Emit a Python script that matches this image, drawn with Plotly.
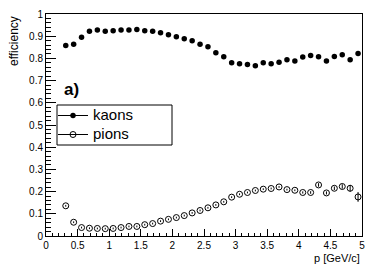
import plotly.graph_objects as go

# bin centres (0.125 GeV/c bins)
p_centers = [0.3125 + 0.125 * k for k in range(38)]

kaon_eff = [0.858, 0.864, 0.895, 0.922, 0.928, 0.922, 0.925, 0.928, 0.928, 0.930,
            0.925, 0.922, 0.916, 0.907, 0.897, 0.889, 0.879, 0.864, 0.852, 0.826,
            0.807, 0.780, 0.776, 0.773, 0.767, 0.780, 0.776, 0.783, 0.794, 0.788,
            0.806, 0.813, 0.807, 0.788, 0.809, 0.817, 0.794, 0.822]
kaon_err = [0.002] * 38

pion_eff = [0.136, 0.062, 0.038, 0.035, 0.034, 0.033, 0.034, 0.038, 0.043, 0.043,
            0.051, 0.056, 0.067, 0.075, 0.083, 0.092, 0.104, 0.115, 0.127, 0.140,
            0.154, 0.175, 0.188, 0.196, 0.205, 0.211, 0.214, 0.221, 0.209, 0.206,
            0.196, 0.196, 0.230, 0.194, 0.215, 0.223, 0.215, 0.176]
pion_err = [0.004] * 30 + [0.005, 0.006, 0.008, 0.007, 0.008, 0.010, 0.015, 0.022]

x_ticks = [0, 0.5, 1, 1.5, 2, 2.5, 3, 3.5, 4, 4.5, 5]
x_ticklabels = ["0", "0.5", "1", "1.5", "2", "2.5", "3", "3.5", "4", "4.5", "5"]
y_ticks = [0, 0.1, 0.2, 0.3, 0.4, 0.5, 0.6, 0.7, 0.8, 0.9, 1]
y_ticklabels = ["0", "0.1", "0.2", "0.3", "0.4", "0.5", "0.6", "0.7", "0.8", "0.9", "1"]

FONT = "Liberation Sans, Arial, sans-serif"

fig = go.Figure()

fig.add_trace(go.Scatter(
    x=p_centers, y=kaon_eff, mode="markers",
    marker=dict(symbol="circle", size=5.5, color="black"),
    error_y=dict(type="data", array=kaon_err, width=0, color="black", thickness=1),
    showlegend=False, name="kaons"))
fig.add_trace(go.Scatter(
    x=p_centers, y=pion_eff, mode="markers",
    marker=dict(symbol="circle-open", size=6, color="black", line=dict(width=1, color="black")),
    error_y=dict(type="data", array=pion_err, width=0, color="black", thickness=1),
    showlegend=False, name="pions"))

# legend entries (line + marker, ROOT "lp" style)
fig.add_trace(go.Scatter(x=[None], y=[None], mode="lines+markers",
                         name='<span style="font-size:15px">kaons</span>',
                         line=dict(color="black", width=1),
                         marker=dict(symbol="circle", size=5.5, color="black")))
fig.add_trace(go.Scatter(x=[None], y=[None], mode="lines+markers",
                         name='<span style="font-size:15px">pions</span>',
                         line=dict(color="black", width=1),
                         marker=dict(symbol="circle-open", size=6, color="black",
                                     line=dict(width=1, color="black"))))

axis_common = dict(showgrid=False, zeroline=False, showline=True, linecolor="black",
                   linewidth=1, mirror=True, ticks="inside", tickcolor="black",
                   automargin=False,
                   tickfont=dict(family=FONT, size=10, color="black"))

fig.update_xaxes(range=[0, 5], tickmode="array", tickvals=x_ticks, ticktext=x_ticklabels,
                 ticklen=7, minor=dict(dtick=0.1, ticklen=3.5, ticks="inside", tickcolor="black"),
                 **axis_common)
fig.update_yaxes(range=[0, 1], tickmode="array", tickvals=y_ticks, ticktext=y_ticklabels,
                 ticklen=9.5, minor=dict(dtick=0.02, ticklen=4.75, ticks="inside", tickcolor="black"),
                 **axis_common)

L, R, T, B = 46, 20, 14, 33
W, H = 382, 269
pw, ph = W - L - R, H - T - B

def px_x(px):
    return (px - L) / pw

def px_y(py):
    return (H - B - py) / ph

fig.update_layout(
    width=W, height=H, margin=dict(l=L, r=R, t=T, b=B, autoexpand=False),
    plot_bgcolor="white", paper_bgcolor="white",
    font=dict(family=FONT, color="black"),
    legend=dict(x=px_x(53), y=px_y(101), xanchor="left", yanchor="top",
                bgcolor="rgba(0,0,0,0)", borderwidth=0,
                font=dict(family=FONT, size=11, color="black"),
                tracegroupgap=0, itemwidth=30),
    shapes=[dict(type="rect", xref="paper", yref="paper",
                 x0=px_x(57), x1=px_x(172), y0=px_y(145), y1=px_y(105),
                 line=dict(color="black", width=1), fillcolor="rgba(0,0,0,0)")],
    annotations=[
        dict(text="efficiency", textangle=-90, xref="paper", yref="paper",
             x=0, y=1, xanchor="center", yanchor="top", xshift=-32, showarrow=False,
             font=dict(family=FONT, size=12, color="black")),
        dict(text="p [GeV/c]", xref="paper", yref="paper", x=1, y=0,
             xanchor="right", yanchor="middle", yshift=-22, showarrow=False,
             font=dict(family=FONT, size=11, color="black")),
        dict(text="<b>a)</b>", xref="paper", yref="paper", x=px_x(62), y=px_y(89),
             xanchor="left", yanchor="middle", showarrow=False,
             font=dict(family=FONT, size=17, color="black")),
    ],
)

fig.write_html("out.html", config={"displayModeBar": False},
               post_script="document.body.style.margin='0';document.body.style.overflow='hidden';")
